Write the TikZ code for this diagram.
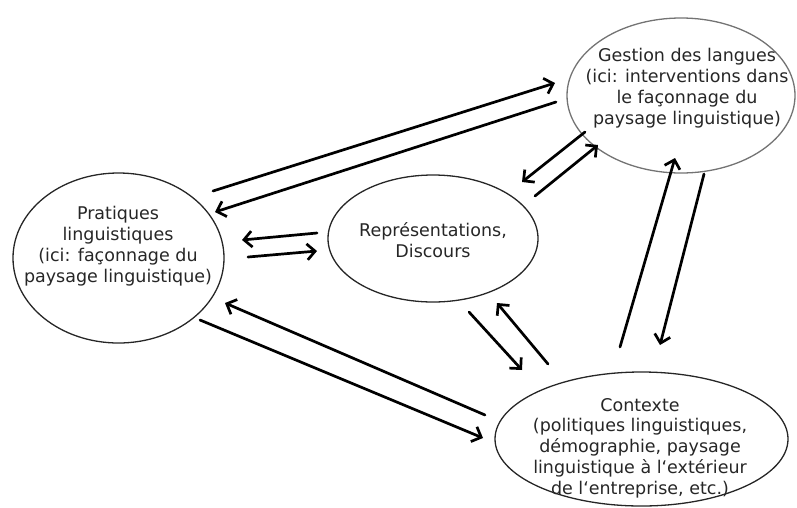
\documentclass[tikz,border=0pt]{standalone}
\usepackage{fontspec}
\setmainfont{DejaVu Sans}
\usetikzlibrary{shapes.geometric,arrows.meta}
\begin{document}
\begin{tikzpicture}[x=1pt,y=-1pt,
  bubble/.style={draw=black!85,line width=1.3pt,ellipse,inner sep=0pt},
  txt/.style={align=center,font=\fontsize{17.5}{20.8}\selectfont,text=black!85,inner sep=0pt},
  link/.style={line width=2.7pt,line cap=round,-{Straight Barb[length=8pt,width=16pt,line width=2.7pt]}}
]
\useasboundingbox (0,0) rectangle (797,507);
% ellipses
\node[bubble,draw=black!55,minimum width=228pt,minimum height=155pt] (G) at (681,95.5) {};
\node[bubble,minimum width=211pt,minimum height=170pt] (P) at (118.5,258) {};
\node[bubble,minimum width=210pt,minimum height=127pt] (R) at (433,238.5) {};
\node[bubble,minimum width=293pt,minimum height=134pt] (C) at (641.5,439) {};
% texts
\node[txt] (Gt) at (687,88) {Gestion des langues\\(ici: interventions dans\\le façonnage du\\paysage linguistique)};
\node[txt] (Pt) at (118,246) {Pratiques\\linguistiques\\(ici: façonnage du\\paysage linguistique)};
\node[txt] (Rt) at (433,240) {Représentations,\\Discours};
\node[txt] (Ct) at (640,448) {Contexte\\(politiques linguistiques,\\démographie, paysage\\linguistique à l‘extérieur\\de l‘entreprise, etc.)};
% arrow end points
\coordinate (pg1) at (213,191);  \coordinate (pg2) at (555,83);
\coordinate (gp1) at (556,102);  \coordinate (gp2) at (215,212);
\coordinate (gr1) at (585,132);  \coordinate (gr2) at (522,182);
\coordinate (rg1) at (535,196);  \coordinate (rg2) at (598,145);
\coordinate (rp1) at (317,233);  \coordinate (rp2) at (242,240);
\coordinate (pr1) at (248,257);  \coordinate (pr2) at (317,251);
\coordinate (cp1) at (485,415);  \coordinate (cp2) at (225,303);
\coordinate (pc1) at (200,320);  \coordinate (pc2) at (483,438);
\coordinate (rc1) at (469,312);  \coordinate (rc2) at (522,370);
\coordinate (cr1) at (548,364);  \coordinate (cr2) at (497,303);
\coordinate (cg1) at (620,347);  \coordinate (cg2) at (675,158);
\coordinate (gc1) at (704,174);  \coordinate (gc2) at (660,345);
% arrows
\draw[link] (pg1) -- (pg2);
\draw[link] (gp1) -- (gp2);
\draw[link] (gr1) -- (gr2);
\draw[link] (rg1) -- (rg2);
\draw[link] (rp1) -- (rp2);
\draw[link] (pr1) -- (pr2);
\draw[link] (cp1) -- (cp2);
\draw[link] (pc1) -- (pc2);
\draw[link] (rc1) -- (rc2);
\draw[link] (cr1) -- (cr2);
\draw[link] (cg1) -- (cg2);
\draw[link] (gc1) -- (gc2);
\end{tikzpicture}
\end{document}
